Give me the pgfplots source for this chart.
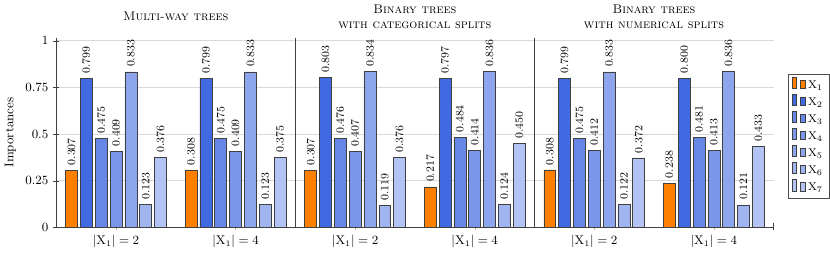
\documentclass[border=0pt]{standalone}
\usepackage{pgfplots}
\pgfplotsset{compat=1.18}
\definecolor{bOrange}{RGB}{255,128,0}
\definecolor{rb}{RGB}{65,105,225}
\begin{document}
\begin{tikzpicture}
\begin{axis}[
  scale only axis, width=513pt, height=135.7pt,
  xmin=0, xmax=6, ymin=0, ymax=1.016, enlargelimits=false,
  ybar, bar width=0.1,
  axis x line=bottom, axis y line=left, axis line style={-, black!75},
  xtick={0.5,1.5,2.5,3.5,4.5,5.5},
  xticklabels={$|\mathrm{X}_1|=2$,$|\mathrm{X}_1|=4$,$|\mathrm{X}_1|=2$,$|\mathrm{X}_1|=4$,$|\mathrm{X}_1|=2$,$|\mathrm{X}_1|=4$},
  xtick style={black!30},
  ytick={0,0.25,0.5,0.75,1}, yticklabels={0,0.25,0.5,0.75,1},
  ytick style={black!75},
  extra x ticks={2,4}, extra x tick labels={},
  extra x tick style={grid=major, major grid style={black!75}, major tick length=0pt},
  ymajorgrids, y grid style={black!15},
  tick label style={font=\small},
  ylabel={Importances}, ylabel style={font=\small},
  nodes near coords={\pgfmathprintnumber[fixed,fixed zerofill,precision=3]{\pgfplotspointmeta}},
  every node near coord/.append style={rotate=90, anchor=west, font=\footnotesize},
  legend style={at={(1.0195,0.48)}, anchor=west, font=\footnotesize, draw=black!70, row sep=0.5pt},
  legend cell align=left,
  clip=false,
]
\addplot[fill=bOrange, draw=black!75, bar shift=-0.372] coordinates {(0.5,0.307) (1.5,0.308) (2.5,0.307) (3.5,0.217) (4.5,0.308) (5.5,0.238)};
\addplot[fill=rb, draw=black!75, bar shift=-0.248] coordinates {(0.5,0.799) (1.5,0.799) (2.5,0.803) (3.5,0.797) (4.5,0.799) (5.5,0.800)};
\addplot[fill=rb!80!white, draw=black!75, bar shift=-0.124] coordinates {(0.5,0.475) (1.5,0.475) (2.5,0.476) (3.5,0.484) (4.5,0.475) (5.5,0.481)};
\addplot[fill=rb!70!white, draw=black!75, bar shift=0] coordinates {(0.5,0.409) (1.5,0.409) (2.5,0.407) (3.5,0.414) (4.5,0.412) (5.5,0.413)};
\addplot[fill=rb!60!white, draw=black!75, bar shift=0.124] coordinates {(0.5,0.833) (1.5,0.833) (2.5,0.834) (3.5,0.836) (4.5,0.833) (5.5,0.836)};
\addplot[fill=rb!50!white, draw=black!75, bar shift=0.248] coordinates {(0.5,0.123) (1.5,0.123) (2.5,0.119) (3.5,0.124) (4.5,0.122) (5.5,0.121)};
\addplot[fill=rb!40!white, draw=black!75, bar shift=0.372] coordinates {(0.5,0.376) (1.5,0.375) (2.5,0.376) (3.5,0.450) (4.5,0.372) (5.5,0.433)};
\legend{$\mathrm{X}_1$,$\mathrm{X}_2$,$\mathrm{X}_3$,$\mathrm{X}_4$,$\mathrm{X}_5$,$\mathrm{X}_6$,$\mathrm{X}_7$}
\node[align=center, font=\small] at (axis cs:1,1.016) [yshift=15pt] {\textsc{Multi-way trees}};
\node[align=center, font=\small] at (axis cs:3,1.016) [yshift=15pt] {\textsc{Binary trees}\\\textsc{with categorical splits}};
\node[align=center, font=\small] at (axis cs:5,1.016) [yshift=15pt] {\textsc{Binary trees}\\\textsc{with numerical splits}};
\draw[black!75] (axis cs:6,0) ++(0,-1.5pt) -- ++(0,5pt);
\end{axis}
\end{tikzpicture}
\end{document}
